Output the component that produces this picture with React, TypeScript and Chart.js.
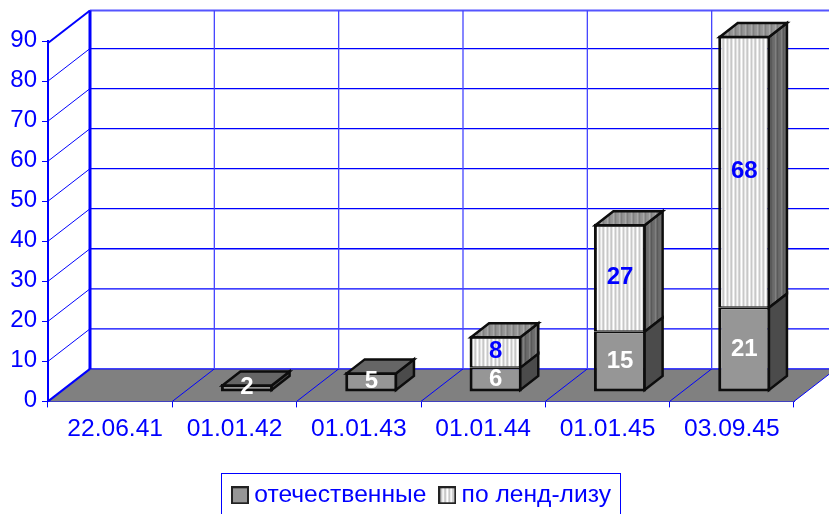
import React, { useEffect, useRef } from "react";
import { Chart, registerables } from "chart.js";

Chart.register(...registerables);

const categories = ["22.06.41", "01.01.42", "01.01.43", "01.01.44", "01.01.45", "03.09.45"];
const domestic = [0, 2, 5, 6, 15, 21];
const lendLease = [0, 0, 0, 8, 27, 68];
const BLUE = "#0000FF";
const FONT = "'Liberation Sans', Arial, sans-serif";
const WALL = { dx: 42, dy: -32.5 };
const BAR_SHIFT = { dx: 12.5, dy: -9.5 };
const BAR_DEPTH = { dx: 18, dy: -14 };
const TOP_LINE_DROP = 2;
const EDGE = "#0d0d0d";

function stripes(colors: string[]) {
  const c = document.createElement("canvas");
  c.width = colors.length;
  c.height = 4;
  const g = c.getContext("2d")!;
  colors.forEach((col, i) => {
    g.fillStyle = col;
    g.fillRect(i, 0, 1, 4);
  });
  return g.createPattern(c, "repeat")!;
}

function legendSwatch(fill: any) {
  const c = document.createElement("canvas");
  c.width = 18;
  c.height = 18;
  const g = c.getContext("2d")!;
  g.fillStyle = fill;
  g.fillRect(0, 0, 18, 18);
  g.strokeStyle = "#222222";
  g.lineWidth = 2;
  g.strokeRect(1, 1, 16, 16);
  return c;
}

const poly = (ctx: CanvasRenderingContext2D, pts: number[][], fill: any, stroke: string, w: number) => {
  ctx.beginPath();
  pts.forEach((p, i) => (i ? ctx.lineTo(p[0], p[1]) : ctx.moveTo(p[0], p[1])));
  ctx.closePath();
  if (fill) {
    ctx.fillStyle = fill;
    ctx.fill();
  }
  ctx.lineWidth = w;
  ctx.strokeStyle = stroke;
  ctx.lineJoin = "miter";
  ctx.stroke();
};
const seg = (ctx: CanvasRenderingContext2D, x1: number, y1: number, x2: number, y2: number, w: number, color = BLUE) => {
  ctx.beginPath();
  ctx.moveTo(x1, y1);
  ctx.lineTo(x2, y2);
  ctx.lineWidth = w;
  ctx.strokeStyle = color;
  ctx.stroke();
};

export default function App() {
  const ref = useRef<HTMLCanvasElement>(null);
  useEffect(() => {
    const frontPat = stripes(["#ffffff", "#ffffff", "#c8c8c8", "#c8c8c8", "#ffffff", "#f0f0f0", "#bebebe", "#d0d0d0"]);
    const sidePat = stripes(["#808080", "#808080", "#5a5a5a", "#5a5a5a", "#787878", "#5f5f5f"]);
    const topPat = stripes(["#a8a8a8", "#a8a8a8", "#808080", "#808080", "#a0a0a0", "#888888"]);
    const sideFill = ["#4b4b4b", sidePat];
    const topFill = ["#666666", topPat];
    const swatches = [legendSwatch("#969696"), legendSwatch(frontPat)];

    const plugin = {
      id: "depth3d",
      afterLayout(chart: any) {
        const l = chart.legend;
        l.left = 219;
        l.right = 640;
        l.top = 464;
        l.bottom = 514;
      },
      beforeDraw(chart: any) {
        const { x, y } = chart.scales;
        const xItems = x.getLabelItems(chart.chartArea);
        if (xItems[0]) xItems[0].options.translation[0] += 5;
        y.getLabelItems(chart.chartArea).forEach((it: any) => {
          it.options.translation[1] -= 1;
        });
      },
      beforeDatasetsDraw(chart: any) {
        const ctx = chart.ctx;
        const { x, y } = chart.scales;
        const area = chart.chartArea;
        ctx.save();
        const step = x.getPixelForValue(1) - x.getPixelForValue(0);
        const xEdges = categories.map((_, i) => x.getPixelForValue(i) - step / 2);
        xEdges.push(area.right);
        const wallTop = area.top + TOP_LINE_DROP + WALL.dy;
        poly(ctx, [
          [area.left, area.bottom],
          [area.right, area.bottom],
          [area.right + WALL.dx, area.bottom + WALL.dy],
          [area.left + WALL.dx, area.bottom + WALL.dy],
        ], "#808080", "#808080", 0.01);
        y.ticks.forEach((t: any) => {
          const top = t.value === y.max;
          const py = y.getPixelForValue(t.value) + (top ? TOP_LINE_DROP : 0);
          seg(ctx, area.left, py, area.left + WALL.dx, py + WALL.dy, top ? 2 : 1);
          seg(ctx, area.left + WALL.dx, py + WALL.dy, chart.width, py + WALL.dy, top ? 2 : 1.3, top ? "#5555ff" : BLUE);
        });
        xEdges.forEach((ex: number, i: number) => {
          seg(ctx, ex, area.bottom, ex + WALL.dx, area.bottom + WALL.dy, 1);
          if (i > 0 && i < xEdges.length - 1)
            seg(ctx, ex + WALL.dx, wallTop, ex + WALL.dx, area.bottom + WALL.dy, 1.3, "#4444ff");
        });
        seg(ctx, area.left + WALL.dx, wallTop, area.left + WALL.dx, area.bottom + WALL.dy, 3);
        seg(ctx, area.left, area.bottom, area.left + WALL.dx, area.bottom + WALL.dy, 2);
        ctx.restore();
      },
      beforeDatasetDraw(chart: any) {
        chart.ctx.save();
        chart.ctx.translate(BAR_SHIFT.dx, BAR_SHIFT.dy);
      },
      afterDatasetDraw(chart: any, args: any) {
        const ctx = chart.ctx;
        ctx.restore();
        const idx = args.index;
        const values = chart.data.datasets[idx].data;
        const meta = chart.getDatasetMeta(idx);
        ctx.save();
        ctx.translate(BAR_SHIFT.dx, BAR_SHIFT.dy);
        meta.data.forEach((el: any, i: number) => {
          if (!values[i]) return;
          const capped = idx === 1 || !lendLease[i];
          const onStack = idx === 1;
          const left = el.x - el.width / 2 + 1.5;
          const right = el.x + el.width / 2 - 1.5;
          const t = capped ? el.y + 1.5 : el.y;
          const b = onStack ? el.base : el.base - 1.5;
          const d = BAR_DEPTH;
          poly(ctx, [
            [right, t],
            [right + d.dx, t + d.dy],
            [right + d.dx, b + d.dy],
            [right, b],
          ], sideFill[idx], EDGE, 2.5);
          if (capped) {
            poly(ctx, [
              [left, t],
              [left + d.dx, t + d.dy],
              [right + d.dx, t + d.dy],
              [right, t],
            ], topFill[idx], EDGE, 2.5);
          }
        });
        ctx.restore();
      },
      afterDatasetsDraw(chart: any) {
        const ctx = chart.ctx;
        ctx.save();
        ctx.translate(BAR_SHIFT.dx, BAR_SHIFT.dy);
        ctx.font = `bold 24px ${FONT}`;
        ctx.textAlign = "center";
        ctx.textBaseline = "middle";
        [0, 1].forEach((idx) => {
          const values = chart.data.datasets[idx].data;
          ctx.fillStyle = idx === 0 ? "#ffffff" : BLUE;
          chart.getDatasetMeta(idx).data.forEach((el: any, i: number) => {
            if (values[i]) ctx.fillText(String(values[i]), el.x, (el.y + el.base) / 2);
          });
        });
        ctx.restore();
      },
      afterDraw(chart: any) {
        const ctx = chart.ctx;
        ctx.save();
        ctx.strokeStyle = BLUE;
        ctx.lineWidth = 1;
        ctx.strokeRect(221.5, 473.5, 399, 60);
        ctx.restore();
      },
    };

    const chart = new Chart(ref.current!, {
      type: "bar",
      data: {
        labels: categories,
        datasets: [
          {
            label: "отечественные",
            data: domestic,
            backgroundColor: "#969696",
            borderColor: EDGE,
            borderWidth: (c: any) => ({ top: lendLease[c.dataIndex] ? 1.5 : 3, left: 3, right: 3, bottom: 3 }),
            borderSkipped: false,
            clip: false as any,
          },
          {
            label: "по ленд-лизу",
            data: lendLease,
            backgroundColor: frontPat as any,
            borderColor: EDGE,
            borderWidth: { top: 3, left: 3, right: 3, bottom: 1.5 },
            borderSkipped: false,
            clip: false as any,
          },
        ],
      },
      options: {
        responsive: false,
        animation: false,
        layout: { padding: { left: 0, right: 35, top: 41, bottom: 0 } },
        datasets: { bar: { categoryPercentage: 1, barPercentage: 0.42 } },
        plugins: {
          title: { display: false },
          tooltip: { enabled: false },
          legend: {
            position: "bottom",
            align: "start",
            labels: {
              color: BLUE,
              font: { family: FONT, size: 24.6 },
              usePointStyle: true,
              pointStyleWidth: 4,
              padding: 19,
              generateLabels: (c: any) =>
                Chart.defaults.plugins.legend.labels.generateLabels(c).map((item: any, i: number) => ({
                  ...item,
                  pointStyle: swatches[i],
                })),
            },
          },
        },
        scales: {
          x: {
            stacked: true,
            grid: { display: true, drawOnChartArea: false, drawTicks: true, tickLength: 6, color: BLUE, lineWidth: 1 },
            border: { display: true, color: BLUE, width: 1 },
            ticks: { color: BLUE, font: { family: FONT, size: 24.6 }, padding: 7, maxRotation: 0, autoSkip: false },
            afterFit: (s: any) => { s.height = 59; },
          },
          y: {
            stacked: true,
            min: 0,
            max: 90,
            grid: { display: true, drawOnChartArea: false, drawTicks: true, tickLength: 6, color: BLUE, lineWidth: 1 },
            border: { display: true, color: BLUE, width: 2 },
            ticks: { color: BLUE, font: { family: FONT, size: 24 }, stepSize: 10, padding: 5 },
            afterFit: (s: any) => { s.width = 48; },
          },
        },
      },
      plugins: [plugin as any],
    });
    return () => chart.destroy();
  }, []);
  return (
    <div style={{ position: "absolute", left: 0, top: 0, width: 829, height: 514, overflow: "hidden", background: "#fff" }}>
      <canvas ref={ref} width={829} height={514} style={{ display: "block" }} />
    </div>
  );
}
